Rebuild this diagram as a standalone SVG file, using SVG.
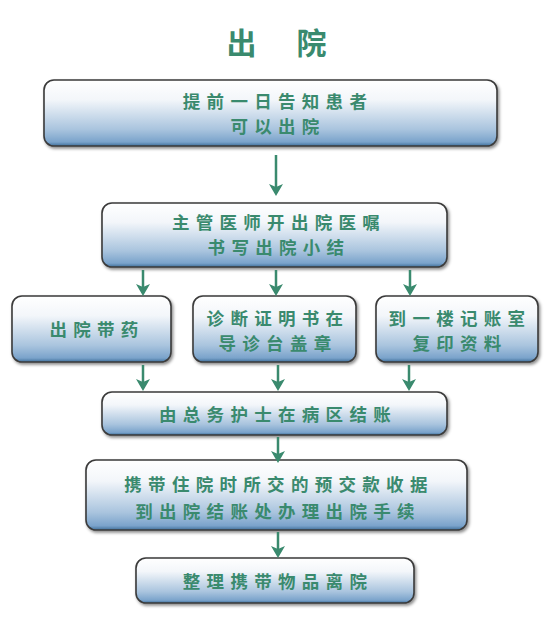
<svg xmlns="http://www.w3.org/2000/svg" width="550" height="626" viewBox="0 0 550 626">
<style>
.box{fill:url(#g);stroke:#3a3a3a;stroke-width:1.6;filter:url(#sh)}
.t{font-family:"Noto Sans CJK SC","Noto Sans",sans-serif;font-weight:bold;font-size:17.5px;fill:#3a8a6e;text-anchor:middle;letter-spacing:6.3px}
.c{stroke:#3a8a6e;stroke-width:2.5;fill:none;marker-end:url(#ah)}
</style>
<defs>
<linearGradient id="g" x1="0" y1="0" x2="0" y2="1">
<stop offset="0" stop-color="#ffffff"/>
<stop offset="0.3" stop-color="#f3f6fa"/>
<stop offset="0.75" stop-color="#a9c4de"/>
<stop offset="0.94" stop-color="#7aa3cb"/>
<stop offset="1" stop-color="#3f6f9a"/>
</linearGradient>
<filter id="sh" x="-5%" y="-10%" width="110%" height="130%">
<feDropShadow dx="1.5" dy="2" stdDeviation="1.5" flood-color="#000" flood-opacity="0.45"/>
</filter>
<marker id="ah" markerWidth="12" markerHeight="14" refX="9" refY="7" orient="auto" markerUnits="userSpaceOnUse" viewBox="0 0 12 14">
<path d="M0,0 L12,7 L0,14 L3,7 Z" fill="#3a8a6e"/>
</marker>
</defs>
<text x="279" y="54" style="font-family:'Noto Sans CJK SC','Noto Sans',sans-serif;font-weight:bold;font-size:30px;fill:#3a8a6e;text-anchor:middle;letter-spacing:5px">出　院</text>
<g id="n1"><rect class="box" x="44" y="80" width="453" height="66" rx="10"/><text class="t" x="278" y="108">提前一日告知患者</text><text class="t" x="278" y="133">可以出院</text></g>
<g id="n2"><rect class="box" x="102" y="203" width="345" height="64" rx="10"/><text class="t" x="279" y="229">主管医师开出院医嘱</text><text class="t" x="279" y="254">书写出院小结</text></g>
<g id="n3"><rect class="box" x="12" y="296" width="159" height="66" rx="10"/><text class="t" x="97" y="336">出院带药</text></g>
<g id="n4"><rect class="box" x="193" y="296" width="163" height="66" rx="10"/><text class="t" x="278" y="325">诊断证明书在</text><text class="t" x="278" y="350">导诊台盖章</text></g>
<g id="n5"><rect class="box" x="376" y="296" width="162" height="66" rx="10"/><text class="t" x="460" y="325">到一楼记账室</text><text class="t" x="460" y="350">复印资料</text></g>
<g id="n6"><rect class="box" x="102" y="392" width="345" height="43" rx="10"/><text class="t" x="278" y="421">由总务护士在病区结账</text></g>
<g id="n7"><rect class="box" x="86" y="460" width="381" height="70" rx="10"/><text class="t" x="279" y="491">携带住院时所交的预交款收据</text><text class="t" x="278" y="518">到出院结账处办理出院手续</text></g>
<g id="n8"><rect class="box" x="136" y="558" width="278" height="45" rx="10"/><text class="t" x="278" y="588">整理携带物品离院</text></g>
<g id="connectors">
<path class="c" d="M276,155 V193"/>
<path class="c" d="M143,270 V293"/>
<path class="c" d="M276,270 V293"/>
<path class="c" d="M410,270 V293"/>
<path class="c" d="M143,365 V388"/>
<path class="c" d="M278,365 V388"/>
<path class="c" d="M409,365 V388"/>
<path class="c" d="M278,437 V460"/>
<path class="c" d="M278,532 V555"/>
</g>
</svg>
